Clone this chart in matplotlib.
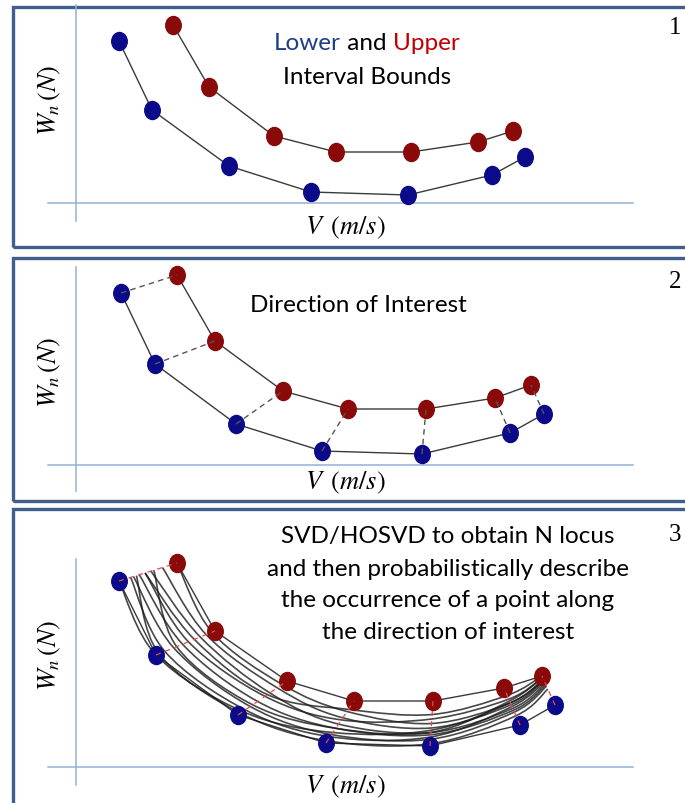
import matplotlib

matplotlib.use("Agg")

import matplotlib.pyplot as plt
import numpy as np
from matplotlib.patches import Rectangle
from matplotlib.path import Path
from matplotlib.patches import PathPatch
from matplotlib.transforms import Affine2D

# Sample points per panel: V (m/s) offset and W_n (N) height, lower / upper bounds
v_lower_1 = [43, 76, 153, 235, 332, 416, 449]
w_lower_1 = [162, 93, 37, 11, 8, 28, 46]
v_upper_1 = [97, 133, 198, 260, 335, 402, 437]
w_upper_1 = [178, 116, 67, 51, 51, 61, 72]

v_lower_2 = [45, 79, 160, 246, 346, 434, 468]
w_lower_2 = [172, 101, 41, 14, 11, 32, 51]
v_upper_2 = [101, 139, 207, 272, 350, 419, 455]
w_upper_2 = [190, 124, 74, 56, 56, 67, 80]

v_lower_3 = [43, 80, 162, 250, 354, 444, 479]
w_lower_3 = [186, 112, 52, 24, 21, 42, 62]
v_upper_3 = [101, 139, 211, 278, 357, 428, 466]
w_upper_3 = [204, 136, 86, 66, 66, 79, 91]

# position of each locus along the lower->upper direction at every station
locus_t = [
    [1.00, 0.95, 0.90, 0.75, 0.50, 0.60, 0.90],
    [0.75, 0.85, 0.80, 0.60, 0.40, 0.55, 0.85],
    [0.55, 0.75, 0.65, 0.45, 0.30, 0.45, 0.75],
    [0.45, 0.55, 0.55, 0.55, 0.60, 0.70, 0.95],
    [0.35, 0.45, 0.40, 0.35, 0.25, 0.40, 0.70],
    [0.25, 0.30, 0.25, 0.20, 0.15, 0.35, 0.65],
    [0.20, 0.15, 0.15, 0.15, 0.20, 0.50, 0.80],
    [0.30, 0.05, 0.05, 0.05, 0.05, 0.25, 0.55],
    [0.00, 0.00, 0.10, 0.25, 0.35, 0.60, 0.85],
    [0.60, 0.35, 0.30, 0.35, 0.30, 0.65, 0.95],
    [0.45, 0.65, 0.60, 0.80, 0.70, 0.80, 1.00],
]

W_PX, H_PX = 685, 804
BORDER = "#3f5f8c"
AXIS = "#93b2d6"
BLUE = "#0b0b8a"
RED = "#8a0a0a"
LINE = "#3a3a3a"
TEXT_FONT = ["Lato", "DejaVu Sans"]
TEXT_SIZE = 17.5
MATH_SIZE = 19

plt.rcParams["mathtext.fontset"] = "stix"

fig = plt.figure(figsize=(W_PX / 100, H_PX / 100), dpi=100)

# ellipse marker, slightly taller than wide
_ellipse = Path.unit_circle().transformed(Affine2D().scale(0.86, 1.0))


def panel_axes(top, bottom, axis_y):
    """Axes whose data units are pixels, origin at the axis crossing."""
    ax = fig.add_axes([0, 1 - bottom / H_PX, 1, (bottom - top) / H_PX])
    ax.set_xlim(-76, W_PX - 76)
    ax.set_ylim(axis_y - bottom, axis_y - top)
    ax.axis("off")
    return ax


def draw_frame(ax, axis_y, box_top, box_bottom, y_top, y_bottom):
    ax.add_patch(Rectangle((13 - 76, axis_y - box_bottom), 700, box_bottom - box_top,
                           fill=False, ec=BORDER, lw=2.4, clip_on=False, zorder=1))
    ax.plot([0, 0], [axis_y - y_bottom, axis_y - y_top], color=AXIS, lw=1.1, zorder=2)
    ax.plot([48 - 76, 633 - 76], [0, 0], color=AXIS, lw=1.1, zorder=2)


def draw_bounds(ax, vl, wl, vu, wu):
    ax.plot(vl, wl, color=LINE, lw=1.0, zorder=3)
    ax.plot(vu, wu, color=LINE, lw=1.0, zorder=3)
    ax.plot(vl, wl, ls="none", marker=_ellipse, ms=13, mfc=BLUE, mec=BLUE, zorder=5)
    ax.plot(vu, wu, ls="none", marker=_ellipse, ms=13, mfc=RED, mec=RED, zorder=5)


def axis_labels(ax, w_ylabel, w_xlabel):
    ax.text(-26, w_ylabel, r"$W_n\,(N)$", rotation=90, ha="center", va="center",
            fontsize=MATH_SIZE, zorder=6)
    ax.text(269, w_xlabel, r"$V\ \,(m/s)$", ha="center", va="center",
            fontsize=MATH_SIZE, zorder=6)


def smooth_path(xs, ys):
    pts = np.column_stack([xs, ys]).astype(float)
    n = len(pts)
    verts = [pts[0]]
    for i in range(n - 1):
        p_prev = pts[max(i - 1, 0)]
        p_next = pts[min(i + 2, n - 1)]
        verts.append(pts[i] + (pts[i + 1] - p_prev) / 6.0)
        verts.append(pts[i + 1] - (p_next - pts[i]) / 6.0)
        verts.append(pts[i + 1])
    codes = [Path.MOVETO] + [Path.CURVE4] * (3 * (n - 1))
    return Path(verts, codes)


# --- panel 1: lower and upper bounds -------------------------------------
ax1 = panel_axes(0, 252, 204)
draw_frame(ax1, 204, 8, 248, 6, 222)
draw_bounds(ax1, v_lower_1, w_lower_1, v_upper_1, w_upper_1)
axis_labels(ax1, 104, -24)
mid = ax1.text(367 - 76, 204 - 43, " and ", ha="center", va="center",
               fontsize=TEXT_SIZE, family=TEXT_FONT, color="black")
ax1.annotate("Lower", xy=(0, 0.5), xycoords=mid, ha="right", va="center",
             fontsize=TEXT_SIZE, family=TEXT_FONT, color="#1f3c88")
ax1.annotate("Upper", xy=(1, 0.5), xycoords=mid, ha="left", va="center",
             fontsize=TEXT_SIZE, family=TEXT_FONT, color="#c00000")
ax1.text(367 - 76, 204 - 77, "Interval Bounds", ha="center", va="center",
         fontsize=TEXT_SIZE, family=TEXT_FONT)
ax1.text(675 - 76, 204 - 28, "1", ha="center", va="center", fontsize=18,
         family="Liberation Serif")

# --- panel 2: direction of interest --------------------------------------
ax2 = panel_axes(252, 506, 466)
draw_frame(ax2, 466, 259, 502, 268, 492)
draw_bounds(ax2, v_lower_2, w_lower_2, v_upper_2, w_upper_2)
for vl, wl, vu, wu in zip(v_lower_2, w_lower_2, v_upper_2, w_upper_2):
    ax2.plot([vl, vu], [wl, wu], color="#555555", lw=1.0, ls=(0, (4, 3)), zorder=6)
axis_labels(ax2, 94, -17)
ax2.text(358 - 76, 466 - 305, "Direction of Interest", ha="center", va="center",
         fontsize=TEXT_SIZE, family=TEXT_FONT)
ax2.text(675 - 76, 466 - 282, "2", ha="center", va="center", fontsize=18,
         family="Liberation Serif")

# --- panel 3: N loci between the bounds ----------------------------------
ax3 = panel_axes(506, 804, 768)
draw_frame(ax3, 768, 510, 808, 560, 786)
vl3, wl3 = np.array(v_lower_3, float), np.array(w_lower_3, float)
vu3, wu3 = np.array(v_upper_3, float), np.array(w_upper_3, float)
for t in locus_t:
    t = np.array(t)
    path = smooth_path(vl3 + t * (vu3 - vl3), wl3 + t * (wu3 - wl3))
    ax3.add_patch(PathPatch(path, fill=False, ec="#1a1a1a", lw=1.2, alpha=0.8, zorder=4))
draw_bounds(ax3, v_lower_3, w_lower_3, v_upper_3, w_upper_3)
for vl, wl, vu, wu in zip(v_lower_3, w_lower_3, v_upper_3, w_upper_3):
    ax3.plot([vl, vu], [wl, wu], color="#e8484f", lw=0.9, ls=(0, (4, 4)), zorder=6)
axis_labels(ax3, 113, -19)
for k, line in enumerate(["SVD/HOSVD to obtain N locus",
                          "and then probabilistically describe",
                          "the occurrence of a point along",
                          "the direction of interest"]):
    ax3.text(448 - 76, 768 - (537 + 32 * k), line, ha="center", va="center",
             fontsize=TEXT_SIZE, family=TEXT_FONT)
ax3.text(675 - 76, 768 - 535, "3", ha="center", va="center", fontsize=18,
         family="Liberation Serif")

fig.savefig("out.png", dpi=100)
